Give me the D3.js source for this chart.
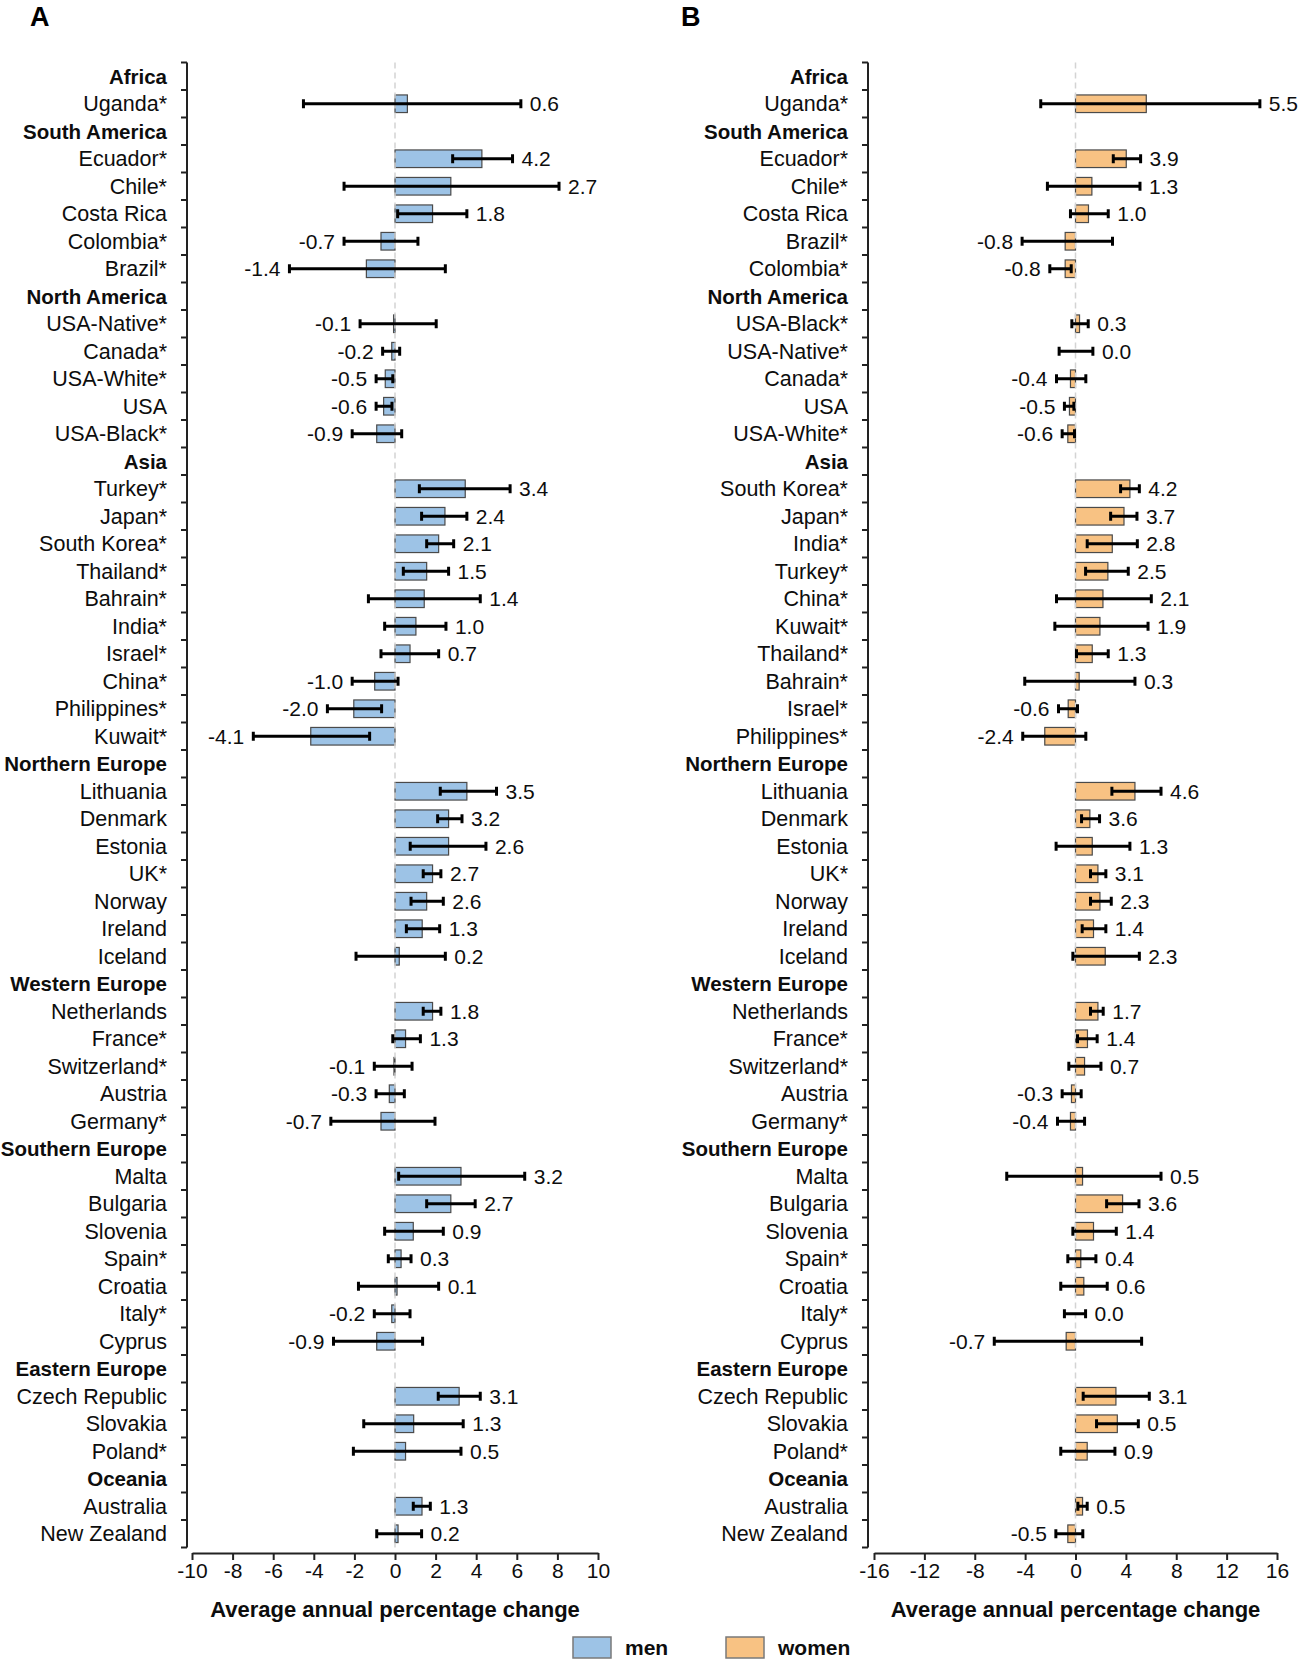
<!DOCTYPE html>
<html>
<head>
<meta charset="utf-8">
<script src="https://cdn.jsdelivr.net/npm/d3@7"></script>
<style>
  html, body { margin: 0; padding: 0; background: #fff; }
  svg { display: block; font-family: "Liberation Sans", Arial, Helvetica, sans-serif; }
</style>
</head>
<body>
<svg id="chart" width="1299" height="1662"></svg>
<script>
// ---------------- DATA ----------------
const regions = ["Africa","South America","North America","Asia","Northern Europe","Western Europe","Southern Europe","Eastern Europe","Oceania"];

const categoriesA = ["Africa","Uganda*","South America","Ecuador*","Chile*","Costa Rica","Colombia*","Brazil*","North America","USA-Native*","Canada*","USA-White*","USA","USA-Black*","Asia","Turkey*","Japan*","South Korea*","Thailand*","Bahrain*","India*","Israel*","China*","Philippines*","Kuwait*","Northern Europe","Lithuania","Denmark","Estonia","UK*","Norway","Ireland","Iceland","Western Europe","Netherlands","France*","Switzerland*","Austria","Germany*","Southern Europe","Malta","Bulgaria","Slovenia","Spain*","Croatia","Italy*","Cyprus","Eastern Europe","Czech Republic","Slovakia","Poland*","Oceania","Australia","New Zealand"];

const menBar  = [null,0.61,null,4.28,2.75,1.85,-0.69,-1.41,null,-0.07,-0.16,-0.48,-0.56,-0.90,null,3.46,2.46,2.15,1.56,1.44,1.03,0.74,-1.00,-2.03,-4.15,null,3.54,2.64,2.64,1.85,1.56,1.34,0.21,null,1.85,0.52,-0.05,-0.28,-0.69,null,3.25,2.75,0.90,0.30,0.10,-0.16,-0.90,null,3.16,0.92,0.52,null,1.33,0.15];
const menLow  = [null,-4.51,null,2.84,-2.51,0.13,-2.51,-5.20,null,-1.72,-0.61,-0.93,-0.93,-2.11,null,1.20,1.31,1.56,0.41,-1.31,-0.51,-0.69,-2.11,-3.33,-6.98,null,2.23,2.10,0.75,1.39,0.79,0.56,-1.92,null,1.39,-0.11,-1.02,-0.93,-3.16,null,0.18,1.56,-0.51,-0.33,-1.80,-1.02,-3.03,null,2.13,-1.54,-2.05,null,0.90,-0.90];
const menHigh = [null,6.20,null,5.79,8.08,3.54,1.13,2.48,null,2.03,0.23,-0.11,-0.15,0.33,null,5.67,3.54,2.89,2.64,4.20,2.51,2.15,0.15,-0.66,-1.25,null,5.00,3.30,4.48,2.26,2.38,2.20,2.48,null,2.26,1.25,0.84,0.46,1.97,null,6.39,3.95,2.38,0.79,2.15,0.74,1.36,null,4.20,3.36,3.25,null,1.74,1.31];
const menLabel = [null,"0.6",null,"4.2","2.7","1.8","-0.7","-1.4",null,"-0.1","-0.2","-0.5","-0.6","-0.9",null,"3.4","2.4","2.1","1.5","1.4","1.0","0.7","-1.0","-2.0","-4.1",null,"3.5","3.2","2.6","2.7","2.6","1.3","0.2",null,"1.8","1.3","-0.1","-0.3","-0.7",null,"3.2","2.7","0.9","0.3","0.1","-0.2","-0.9",null,"3.1","1.3","0.5",null,"1.3","0.2"];

const categoriesB = ["Africa","Uganda*","South America","Ecuador*","Chile*","Costa Rica","Brazil*","Colombia*","North America","USA-Black*","USA-Native*","Canada*","USA","USA-White*","Asia","South Korea*","Japan*","India*","Turkey*","China*","Kuwait*","Thailand*","Bahrain*","Israel*","Philippines*","Northern Europe","Lithuania","Denmark","Estonia","UK*","Norway","Ireland","Iceland","Western Europe","Netherlands","France*","Switzerland*","Austria","Germany*","Southern Europe","Malta","Bulgaria","Slovenia","Spain*","Croatia","Italy*","Cyprus","Eastern Europe","Czech Republic","Slovakia","Poland*","Oceania","Australia","New Zealand"];

const womenBar  = [null,5.62,null,4.03,1.30,1.03,-0.82,-0.82,null,0.32,0,-0.40,-0.48,-0.61,null,4.32,3.85,2.92,2.57,2.18,1.94,1.33,0.29,-0.58,-2.44,null,4.72,1.14,1.33,1.78,1.94,1.43,2.36,null,1.78,0.95,0.72,-0.32,-0.40,null,0.56,3.74,1.43,0.42,0.66,0,-0.74,null,3.21,3.32,0.93,null,0.56,-0.61];
const womenLow  = [null,-2.76,null,3.00,-2.23,-0.40,-4.24,-2.04,null,-0.29,-1.30,-1.51,-0.88,-1.06,null,3.58,2.79,0.93,0.80,-1.51,-1.64,0.08,-4.03,-1.35,-4.19,null,2.89,0.48,-1.54,1.19,1.19,0.53,-0.21,null,1.19,0.16,-0.53,-1.06,-1.43,null,-5.46,2.47,-0.21,-0.61,-1.17,-0.88,-6.45,null,0.61,1.67,-1.17,null,0.19,-1.56];
const womenHigh = [null,14.64,null,5.17,5.12,2.60,2.94,-0.34,null,1.01,1.38,0.82,-0.13,-0.08,null,5.07,4.88,4.91,4.19,6.02,5.76,2.60,4.72,0.16,0.82,null,6.79,1.91,4.32,2.41,2.84,2.41,5.07,null,2.20,1.72,2.02,0.45,0.72,null,6.79,5.04,3.24,1.62,2.52,0.80,5.25,null,5.86,4.99,3.13,null,0.93,0.58];
const womenLabel = [null,"5.5",null,"3.9","1.3","1.0","-0.8","-0.8",null,"0.3","0.0","-0.4","-0.5","-0.6",null,"4.2","3.7","2.8","2.5","2.1","1.9","1.3","0.3","-0.6","-2.4",null,"4.6","3.6","1.3","3.1","2.3","1.4","2.3",null,"1.7","1.4","0.7","-0.3","-0.4",null,"0.5","3.6","1.4","0.4","0.6","0.0","-0.7",null,"3.1","0.5","0.9",null,"0.5","-0.5"];

const ticksA = [-10,-8,-6,-4,-2,0,2,4,6,8,10];
const ticksB = [-16,-12,-8,-4,0,4,8,12,16];
const axisTitle = "Average annual percentage change";
const legendLabels = ["men","women"];

// ---------------- DRAW ----------------
const svg = d3.select("#chart");
const colors = { men: "#9dc3e6", women: "#f8c283" };

function panel(opts) {
  const { letter, letterX, axisX, x0, x1, ticks, cats, bar, low, high, label, fill } = opts;
  const g = svg.append("g");
  const x = d3.scaleLinear().domain([ticks[0], ticks[ticks.length - 1]]).range([x0, x1]);
  const y = d3.scaleBand().domain(d3.range(cats.length)).range([62.5, 1547.5]).padding(0);
  const bw = y.bandwidth();
  const barH = bw * 0.64;

  g.append("text").attr("x", letterX).attr("y", 26).attr("font-size", 27).attr("font-weight", "bold").text(letter);

  // category labels
  g.selectAll("text.cat").data(cats).join("text")
    .attr("class", "cat")
    .attr("x", axisX - 20)
    .attr("y", (d, i) => y(i) + bw / 2)
    .attr("dy", "0.36em")
    .attr("text-anchor", "end")
    .attr("font-size", d => regions.includes(d) ? 20.5 : 21.5)
    .attr("font-weight", d => regions.includes(d) ? "bold" : "normal")
    .attr("fill", "#0d0d0d")
    .text(d => d);

  // y axis bracket with ticks at band boundaries
  const bounds = d3.range(cats.length + 1).map(i => i < cats.length ? y(i) : y(cats.length - 1) + bw);
  g.append("line").attr("x1", axisX).attr("x2", axisX).attr("y1", bounds[0]).attr("y2", bounds[bounds.length - 1])
    .attr("stroke", "#222").attr("stroke-width", 2);
  g.selectAll("line.yt").data(bounds).join("line").attr("class", "yt")
    .attr("x1", axisX - 6).attr("x2", axisX).attr("y1", d => d).attr("y2", d => d)
    .attr("stroke", "#222").attr("stroke-width", 2);

  const rows = cats.map((c, i) => ({ c, i, v: bar[i], lo: low[i], hi: high[i], lab: label[i] })).filter(d => d.v !== null);

  // bars
  g.selectAll("rect.bar").data(rows).join("rect").attr("class", "bar")
    .attr("x", d => x(Math.min(0, d.v)))
    .attr("width", d => Math.abs(x(d.v) - x(0)))
    .attr("y", d => y(d.i) + (bw - barH) / 2)
    .attr("height", barH)
    .attr("fill", fill).attr("stroke", "#4a4a4a").attr("stroke-width", 1.2);

  // zero reference line
  g.append("line").attr("x1", x(0)).attr("x2", x(0)).attr("y1", bounds[0]).attr("y2", bounds[bounds.length - 1])
    .attr("stroke", "#d4d4d4").attr("stroke-width", 1.5).attr("stroke-dasharray", "6,4");

  // error bars
  const eb = g.selectAll("g.eb").data(rows).join("g").attr("class", "eb");
  eb.append("line").attr("x1", d => x(d.lo)).attr("x2", d => x(d.hi))
    .attr("y1", d => y(d.i) + bw / 2).attr("y2", d => y(d.i) + bw / 2)
    .attr("stroke", "#000").attr("stroke-width", 3);
  eb.append("line").attr("x1", d => x(d.lo)).attr("x2", d => x(d.lo))
    .attr("y1", d => y(d.i) + bw / 2 - 4.5).attr("y2", d => y(d.i) + bw / 2 + 4.5)
    .attr("stroke", "#000").attr("stroke-width", 3);
  eb.append("line").attr("x1", d => x(d.hi)).attr("x2", d => x(d.hi))
    .attr("y1", d => y(d.i) + bw / 2 - 4.5).attr("y2", d => y(d.i) + bw / 2 + 4.5)
    .attr("stroke", "#000").attr("stroke-width", 3);

  // value labels
  g.selectAll("text.val").data(rows).join("text").attr("class", "val")
    .attr("x", d => d.lab.startsWith("-") ? x(Math.min(d.lo, d.v)) - 9 : x(Math.max(d.hi, d.v)) + 9)
    .attr("y", d => y(d.i) + bw / 2)
    .attr("dy", "0.36em")
    .attr("text-anchor", d => d.lab.startsWith("-") ? "end" : "start")
    .attr("font-size", 21).attr("fill", "#0d0d0d")
    .text(d => d.lab);

  // x axis
  const ax = g.append("g").attr("transform", "translate(0,1553)")
    .call(d3.axisBottom(x).tickValues(ticks).tickSize(7).tickSizeOuter(0).tickPadding(3).tickFormat(d => String(d)));
  ax.select(".domain").attr("stroke", "#222").attr("stroke-width", 2);
  ax.selectAll(".tick line").attr("stroke", "#222").attr("stroke-width", 2);
  ax.selectAll(".tick text").attr("font-size", 21).attr("fill", "#0d0d0d")
    .attr("font-family", "'Liberation Sans', Arial, sans-serif");

  g.append("text").attr("x", x(0)).attr("y", 1617).attr("text-anchor", "middle")
    .attr("font-size", 22).attr("font-weight", "bold").attr("fill", "#0d0d0d").text(axisTitle);
}

panel({ letter: "A", letterX: 30, axisX: 187, x0: 192, x1: 598, ticks: ticksA, cats: categoriesA,
  bar: menBar, low: menLow, high: menHigh, label: menLabel, fill: colors.men });
panel({ letter: "B", letterX: 681, axisX: 868, x0: 874, x1: 1277, ticks: ticksB, cats: categoriesB,
  bar: womenBar, low: womenLow, high: womenHigh, label: womenLabel, fill: colors.women });

// legend
const legX = [573, 726];
const leg = svg.selectAll("g.leg").data(legendLabels).join("g").attr("class", "leg")
  .attr("transform", (d, i) => `translate(${legX[i]},1637)`);
leg.append("rect").attr("width", 38).attr("height", 21)
  .attr("fill", d => colors[d]).attr("stroke", "#7a7a7a").attr("stroke-width", 1.5);
leg.append("text").attr("x", 52).attr("y", 18).attr("font-size", 21).attr("font-weight", "bold")
  .attr("fill", "#0d0d0d").text(d => d);
</script>
</body>
</html>
